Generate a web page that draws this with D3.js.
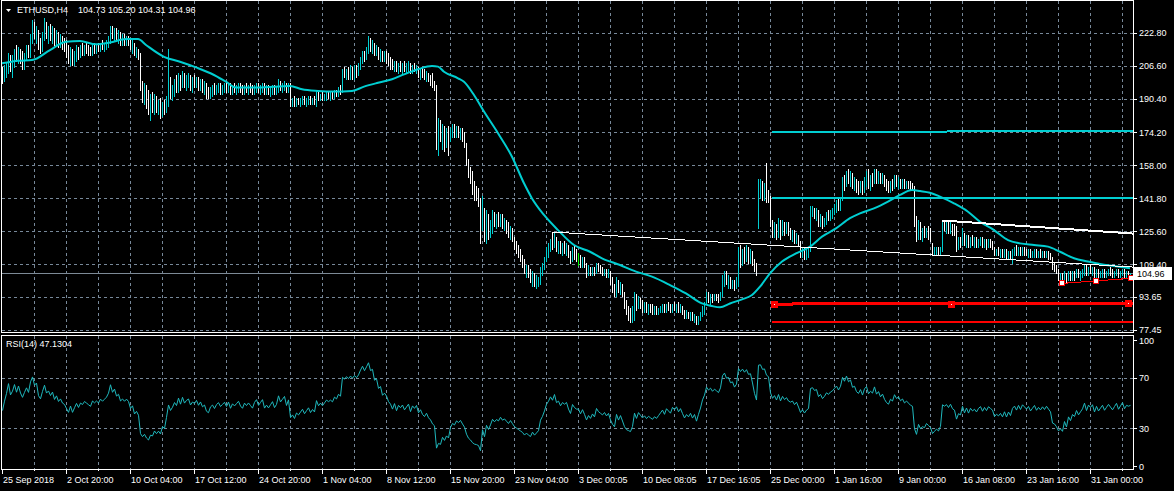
<!DOCTYPE html>
<html><head><meta charset="utf-8">
<script src="https://cdn.jsdelivr.net/npm/d3@7"></script>
<style>html,body{margin:0;padding:0;background:#000;overflow:hidden}svg{display:block}</style>
</head><body><svg id="c" width="1174" height="491"></svg>
<script>
// ---------------- DATA ----------------
const symbolTitle = "ETHUSD,H4";
const headerOHLC = "104.73 105.20 104.31 104.96";
const rsiTitle = "RSI(14) 47.1304";
const firstOpen = 205;
const rsiStart = 44;      // RSI value read at the first bar
const rsiStartMove = 1.5; // typical bar-to-bar move used to seed the averages
const highs = [
206,207,208,213,212,212,215,217,216,215,214,213,217,217,222,229,
228,226,224,220,223,230,228,226,227,226,225,224,223,222,221,220,
219,217,216,215,214,217,216,217,218,217,218,217,216,217,218,217,
218,218,219,218,219,221,226,226,225,225,224,223,222,222,221,221,
220,219,218,216,215,213,199,198,197,195,193,194,193,192,190,191,
189,190,192,215,201,197,200,202,203,202,204,203,202,203,202,201,
202,201,201,200,200,199,198,196,196,197,198,197,198,198,197,198,
199,198,198,197,198,197,198,198,197,197,198,197,198,197,197,198,
198,197,198,198,197,197,196,197,197,196,200,199,198,199,198,198,
198,191,192,191,191,191,192,192,191,192,192,191,192,195,194,193,
194,193,194,194,194,194,195,195,196,197,205,206,205,206,207,206,
207,207,208,211,214,214,216,221,220,219,218,217,216,215,214,214,
214,213,211,210,209,209,208,209,208,209,208,209,208,207,208,207,
206,205,206,205,204,203,202,203,199,197,181,180,178,177,176,177,
176,178,178,177,177,176,176,174,169,161,157,155,150,148,147,142,
143,137,136,134,131,136,135,134,135,134,134,132,131,130,128,127,
123,121,119,117,114,112,109,109,107,106,105,104,103,108,110,113,
118,120,122,125,125,123,121,121,120,121,120,119,116,118,119,117,
115,114,113,113,110,109,108,108,108,110,110,109,108,107,107,107,
106,103,100,103,102,101,100,96,92,89,88,89,96,95,94,93,
92,91,91,90,90,90,89,89,88,89,90,90,90,91,90,90,
91,90,91,90,89,87,87,86,86,86,85,84,84,86,89,91,
96,96,95,95,95,95,95,96,104,106,106,104,103,102,102,103,
118,119,117,118,119,118,117,116,112,110,151,151,150,149,159,146,
143,131,130,129,132,131,131,130,130,130,127,126,126,125,124,121,
118,118,117,118,138,138,137,137,136,134,133,132,135,136,136,137,
139,141,142,142,152,153,155,156,155,154,152,151,150,150,150,152,
155,156,153,154,156,156,155,154,154,153,151,150,150,151,153,153,
152,151,151,151,150,150,150,149,148,133,131,130,127,128,127,128,
127,120,118,118,118,118,131,131,130,131,130,129,129,128,123,123,
127,125,124,124,123,124,123,123,122,123,123,122,122,122,122,121,
118,117,118,117,117,117,117,116,116,117,118,119,118,118,118,118,
117,117,117,116,117,117,116,117,116,116,116,116,115,113,110,109,
107,105,105,106,105,106,106,106,106,107,107,106,107,109,109,108,
109,108,108,107,107,106,107,107,106,107,108,107,106,107,107,106,
107,107,106,106,105.2];
const lows = [
198,199,201,203,204,201,206,209,208,208,205,205,210,211,211,218,
220,218,215,213,214,219,220,218,219,218,217,217,216,216,215,214,
211,208,207,207,207,209,210,211,212,212,213,212,212,212,213,213,
214,214,215,214,215,216,218,220,219,219,218,217,217,217,217,217,
215,213,212,211,210,195,189,188,186,183,180,184,183,184,183,181,
182,183,184,187,191,190,192,194,194,195,196,196,195,196,195,194,
196,196,195,195,194,193,191,191,191,192,193,193,194,193,193,194,
194,194,193,193,194,193,194,194,193,193,194,193,194,193,193,194,
194,193,194,193,193,193,192,193,193,193,194,195,194,195,194,194,
187,187,187,187,188,187,188,188,187,188,188,188,188,187,190,190,
190,190,190,191,190,191,191,192,192,193,194,201,200,200,200,200,
200,201,202,205,208,209,210,213,214,213,212,212,210,209,209,209,
208,207,205,205,204,204,203,204,203,204,203,204,203,203,204,203,
201,200,201,200,199,199,197,196,195,166,163,170,166,165,167,163,
170,172,172,172,172,171,170,167,158,152,149,144,141,141,138,120,
126,121,120,122,123,125,128,127,128,128,127,126,125,123,122,121,
117,115,113,111,108,105,103,103,101,99,99,98,99,100,104,107,
111,113,116,117,118,116,115,115,114,115,114,113,110,111,112,111,
109,108,108,108,103,104,104,104,104,105,106,105,104,104,103,103,
100,96,94,94,96,95,94,88,85,82,81,81,82,87,88,88,
86,86,86,85,86,85,85,85,85,86,86,86,86,87,86,86,
87,86,86,86,85,83,83,83,82,82,81,80,80,82,84,85,
90,91,90,91,92,92,91,92,94,99,100,98,98,98,97,98,
99,108,109,110,111,110,110,109,106,104,127,142,141,141,140,140,
128,123,123,122,123,122,124,124,125,124,122,121,120,120,119,113,
113,112,112,113,116,133,132,131,128,128,127,128,129,131,131,132,
134,135,136,136,141,146,148,149,148,147,146,145,144,145,144,145,
148,147,146,148,149,149,149,149,149,148,146,145,145,146,147,148,
147,147,147,147,147,147,146,146,128,121,122,122,121,123,123,122,
121,114,114,114,114,114,116,126,125,125,125,124,124,116,117,118,
119,119,118,118,118,119,118,118,118,119,118,118,117,118,118,117,
114,114,114,113,113,113,112,112,112,110,114,114,114,114,114,114,
114,113,113,113,113,113,113,113,113,113,113,112,112,107,106,105,
102,101,101,102,101,102,102,102,102,103,103,102,103,104,104,104,
105,104,103,103,103,103,103,103,103,104,104,103,103,104,103,103,
104,103,103,104,104.31];
const closes = [
200,203,206,211,207,209,213,210,214,211,209,212,215,213,221,226,
222,224,217,215,221,227,222,224,221,224,219,222,218,220,217,216,
213,210,214,209,212,215,212,215,214,216,215,214,213,216,215,216,
215,217,216,217,218,220,225,222,224,221,222,219,220,219,220,219,
216,217,213,214,212,197,193,194,189,186,188,187,189,186,187,184,
187,185,190,197,193,195,198,196,201,197,202,198,200,201,197,199,
198,200,197,199,196,197,193,192,195,196,194,196,197,195,196,197,
195,197,194,196,195,196,197,195,194,196,195,196,195,194,196,197,
195,196,197,194,195,194,195,196,194,195,198,196,197,198,195,197,
189,190,188,190,189,190,191,189,190,191,189,190,189,193,191,192,
191,192,193,192.5,193,192.5,194,193.5,195,194.5,203,202.5,204,203.5,205,204.5,
206,205.5,207,210,213,212,215,219,217,218,215,216,213,214,211,212,
211,209,208,206,208,205,207,206,207,205,206,207,204,206,205,206,
203,204,202,201,202,200,199,197,196,170,172,170,173,168,170,167,
172,174,172.5,174.5,173,174,171,168,160,154,151,146,143,142,140,126,
138,124,133,125,129,134,130,132,130,133,129,130,127,124,126,122,
118,116,114,112,110,106,107,104,102,104,100,101,102,107,109,112,
116,118,121,119,123,118,119,116,118,117,118,114,111,116,114,113,
113,110,112,109,105,107,105,107,105,109,107,106,105,106,104,105,
101,98,96,101,97,99,95,90,87,86,85,87,93,89,92,90,
88,89,87,88,87,86,87,86,87,88,89,87,89,88,87,89,
88,89,87,88,86,84,85,84,85,83,84,81,83,85,88,90,
94,93,94,93,94,93.5,93,95,102,104,102.5,103,101.5,102,100.5,102,
114,113,115.5,114.5,117,115.5,116,113,109,106,148,149,146,147,143,142,
130,125,128,124,130,124,129,126,128,125,124,125,122,124,120,115,
117,114,116,117,135,136,134,135,130,132,129,131,134,133,135,136,
138,140,138,141,150,148,154,151,153,149,150,147,146,149,146,151,
153,149,151,150,155,151,153,150,152,149,147,146,149,148,152,150,
151,149,150,148,149,148,147,146.5,131,124,129,124,125,124,126,124,
122,115,116,117,115,117,129,128,129,127,129,126,125,118,121,120,
125,120,123,119,122,120,121,119,121,122,119,121,119,121,120,119,
115,116,115,116,114,116,113,115,113,116,117,115,117,115,117,116,
115,116,114,115,116,114,115,114,115,114,115,114,113,108,107.5,106,
103.5,104,102.5,105,102,105,103,105,104,106,104,105,106,108,105,107,
106,107,104,106,104,105,106,104,105,106,105,104,105,106,104,105,
106,104,105,104.73,104.96];
// moving average (bar index, value)
const maIdx = [0,8,15,24,32,39,47,54,62,68,72,81,89,97,106,112,117,128,144,150,158,166,175,181,188,195,201,208,215,218,221,228,231,236,241,248,255,261,265,271,278,286,294,300,309,317,325,334,342,350,355,359,364,370,375,379,384,390,397,404,410,417,424,429,436,443,449,455,459,464,469,476,483,489,496,503,509,516,523,529,536,543,549,556,564];
const maVal = [207.8,209.1,209.4,214.3,218.4,218.7,217.1,218,219.7,219.7,216.8,211,208.6,205.8,202.1,198.8,196,196,196.7,195.1,194.3,194,194.3,196.4,198.3,200,202.4,204.9,206.5,206.2,203.7,200.5,198.8,192.3,184.2,173.6,162.1,149.1,141.7,133.6,126.2,118.9,115.6,112.4,109.1,105.9,103.4,99.3,95.2,90.3,89,88.4,90.3,92.3,94.4,98.5,105,110.8,114.8,118.1,123,127,132,134.4,136.8,140.1,143.4,145.8,145.3,144.5,142.6,139.3,135.2,130.3,126.2,121.3,119.7,118.9,118.1,115.6,112.4,110.8,109.6,108.6,107.5];
const priceTicks = [222.80,206.60,190.40,174.20,158.00,141.80,125.60,109.40,93.65,77.45];
const priceTickLabels = ["222.80","206.60","190.40","174.20","158.00","141.80","125.60","109.40","93.65","77.45"];
const rsiTicks = [100,70,30,0];
const rsiLevels = [70,30];
const timeLabels = ["25 Sep 2018","2 Oct 20:00","10 Oct 04:00","17 Oct 12:00","24 Oct 20:00","1 Nov 04:00","8 Nov 12:00","15 Nov 20:00","23 Nov 04:00","3 Dec 00:05","10 Dec 08:05","17 Dec 16:05","25 Dec 00:00","1 Jan 16:00","9 Jan 00:00","16 Jan 08:00","23 Jan 16:00","31 Jan 00:00"];
const timeLabelBars = [0,32,64,96,128,160,192,224,256,288,320,352,384,416,448,480,512,544];
const lastPrice = 104.96;
const lastPriceLabel = "104.96";
// drawn objects (bar index / price)
const cyanLines = [{b0:385,p0:174.2,b1:565.5,p1:174.7},{b0:385,p0:141.75,b1:565.5,p1:141.75}];
const whiteThin = {b0:275,p0:125.26,b1:565.5,p1:108.1};
const whiteThick = {b0:470,p0:130.9,b1:565.5,p1:124.5};
const redThick = {b0:385,p0:90.0,b1:565.5,p1:90.4};
const redThickPts = [{b:386,p:90.0},{b:474.5,p:90.2},{b:563,p:90.4}];
const redThin = {b0:385,p0:81.07,b1:565.5,p1:81.07};
const redSmall = {b0:530,p0:100.1,b1:564.5,p1:102.6};
const redSmallPts = [{b:530,p:100.1},{b:547,p:101.2},{b:564.5,p:102.6}];

// ---------------- DRAW ----------------
const svg = d3.select('#c');
const FONT = "Liberation Sans, Arial, sans-serif";
const CYAN = "#00ced1", GRID = "#778899";
const N = closes.length;
const L = 1, R = 1133, PT = 0, PB = 332, RT = 335, RB = 469;
const x = d3.scaleLinear().domain([0, 564]).range([2, 1130]);
const y = d3.scaleLinear().domain([77.45, 222.80]).range([329.7, 32.7]);
const yr = d3.scaleLinear().domain([0, 100]).range([466, 340]);
const px = v => Math.round(v) + 0.5;

svg.append('rect').attr('width',1174).attr('height',491).attr('fill','#000');
const defs = svg.append('defs');
defs.append('clipPath').attr('id','cp').append('rect').attr('x',L+1).attr('y',PT+1).attr('width',R-L-1).attr('height',PB-PT-1);
defs.append('clipPath').attr('id','cr').append('rect').attr('x',L+1).attr('y',RT+1).attr('width',R-L-1).attr('height',RB-RT-1);

// grids
const g = svg.append('g').attr('shape-rendering','crispEdges').attr('stroke',GRID).attr('stroke-dasharray','3,3').attr('stroke-width',1);
g.selectAll('.hg').data(priceTicks).join('line').attr('x1',L+1).attr('x2',R).attr('y1',d=>px(y(d))).attr('y2',d=>px(y(d)));
const vg = d3.range(16, 565, 16);
g.selectAll('.vg').data(vg).join('line').attr('x1',d=>px(x(d))).attr('x2',d=>px(x(d))).attr('y1',PT+1).attr('y2',PB);
g.selectAll('.vr').data(vg).join('line').attr('x1',d=>px(x(d))).attr('x2',d=>px(x(d))).attr('y1',RT+1).attr('y2',RB);
g.selectAll('.rl').data(rsiLevels).join('line').attr('x1',L+1).attr('x2',R).attr('y1',d=>px(yr(d))).attr('y2',d=>px(yr(d)));

// bid line
svg.append('line').attr('shape-rendering','crispEdges').attr('x1',L+1).attr('x2',R).attr('y1',px(y(lastPrice))).attr('y2',px(y(lastPrice))).attr('stroke','#7d8a96');

// bars
const opens = closes.map((c,i)=> i===0 ? firstOpen : closes[i-1]);
const pg = svg.append('g').attr('clip-path','url(#cp)');
pg.append('g').attr('shape-rendering','crispEdges').selectAll('line').data(d3.range(N)).join('line')
  .attr('x1',i=>px(x(i))).attr('x2',i=>px(x(i)))
  .attr('y1',i=>Math.round(y(highs[i]))).attr('y2',i=>Math.round(y(lows[i]))+1)
  .attr('stroke',i=> closes[i]>opens[i] ? CYAN : (closes[i]<opens[i] ? '#ffffff' : '#00ff00'))
  .attr('stroke-width',1);

// MA
pg.append('path').datum(maIdx.map((b,i)=>[b,maVal[i]]))
  .attr('d', d3.line().x(d=>x(d[0])).y(d=>y(d[1])).curve(d3.curveMonotoneX))
  .attr('fill','none').attr('stroke',CYAN).attr('stroke-width',2);

// objects
const seg = (o, color, w) => pg.append('line').attr('shape-rendering','crispEdges')
  .attr('x1',x(o.b0)).attr('y1',y(o.p0)).attr('x2',x(o.b1)).attr('y2',y(o.p1))
  .attr('stroke',color).attr('stroke-width',w);
cyanLines.forEach(o=>seg(o,CYAN,2));
seg(whiteThin,'#ffffff',1);
seg(whiteThick,'#ffffff',2);
seg(redThick,'#ff0000',3);
seg(redThin,'#ff0000',2);
seg(redSmall,'#ff0000',1);
pg.selectAll('.rtp').data(redThickPts).join('rect').attr('shape-rendering','crispEdges')
  .attr('x',d=>Math.round(x(d.b))-3).attr('y',d=>Math.round(y(d.p))-3).attr('width',7).attr('height',7).attr('fill','#ff0000');
pg.selectAll('.rtd').data(redThickPts).join('rect').attr('shape-rendering','crispEdges')
  .attr('x',d=>Math.round(x(d.b))).attr('y',d=>Math.round(y(d.p))).attr('width',1).attr('height',1).attr('fill','#ffffff');
pg.selectAll('.rsp').data(redSmallPts).join('rect').attr('shape-rendering','crispEdges')
  .attr('x',d=>Math.round(x(d.b))-2.5).attr('y',d=>Math.round(y(d.p))-2.5).attr('width',5).attr('height',5)
  .attr('fill','#ffffff').attr('stroke','#ff0000').attr('stroke-width',1);

// RSI(14), Wilder smoothing of the closes, seeded with the value read at the first bar
const period = 14;
let ag = rsiStart/100*rsiStartMove, al = (1-rsiStart/100)*rsiStartMove;
const rsiVals = [[0, rsiStart]];
for (let i = 1; i < N; i++) {
  const d = closes[i] - closes[i-1];
  ag = (ag*(period-1) + Math.max(d,0))/period;
  al = (al*(period-1) + Math.max(-d,0))/period;
  rsiVals.push([i, al === 0 ? 100 : 100 - 100/(1 + ag/al)]);
}
svg.append('g').attr('clip-path','url(#cr)').append('path').datum(rsiVals)
  .attr('d', d3.line().x(d=>x(d[0])+0.5).y(d=>yr(d[1])))
  .attr('fill','none').attr('stroke','#1fb8bd').attr('stroke-width',1);

// panel borders
const b = svg.append('g').attr('shape-rendering','crispEdges').attr('stroke','#ffffff').attr('fill','none');
b.append('rect').attr('x',L+0.5).attr('y',PT+0.5).attr('width',R-L).attr('height',PB-PT);
b.append('rect').attr('x',L+0.5).attr('y',RT+0.5).attr('width',R-L).attr('height',RB-RT);

// right axis
const ra = svg.append('g');
ra.selectAll('line').data(priceTicks).join('line').attr('shape-rendering','crispEdges')
  .attr('x1',R).attr('x2',R+4).attr('y1',d=>px(y(d))).attr('y2',d=>px(y(d))).attr('stroke','#fff');
ra.selectAll('text').data(priceTicks).join('text').attr('x',R+6).attr('y',d=>y(d)+3.5)
  .text((d,i)=>priceTickLabels[i]).attr('fill','#fff').style('font',`9px ${FONT}`);
const rr = svg.append('g');
rr.selectAll('line').data(rsiTicks).join('line').attr('shape-rendering','crispEdges')
  .attr('x1',R).attr('x2',R+4).attr('y1',d=>px(yr(d))).attr('y2',d=>px(yr(d))).attr('stroke','#fff');
rr.selectAll('text').data(rsiTicks).join('text').attr('x',R+6).attr('y',d=>yr(d)+3.5)
  .text(d=>d).attr('fill','#fff').style('font',`9px ${FONT}`);

// last price label
const ly = Math.round(y(lastPrice));
svg.append('rect').attr('x',R+1).attr('y',ly-6).attr('width',38).attr('height',13).attr('fill','#fff');
svg.append('text').attr('x',R+4).attr('y',ly+4).text(lastPriceLabel).attr('fill','#000').style('font',`9px ${FONT}`);

// time axis
const ta = svg.append('g');
ta.selectAll('line.big').data(timeLabelBars).join('line').attr('shape-rendering','crispEdges')
  .attr('x1',d=>px(x(d))).attr('x2',d=>px(x(d))).attr('y1',RB).attr('y2',RB+5).attr('stroke','#fff');
ta.selectAll('line.sm').data(timeLabelBars.map(d=>d+16)).join('line').attr('shape-rendering','crispEdges')
  .attr('x1',d=>px(x(d))).attr('x2',d=>px(x(d))).attr('y1',RB).attr('y2',RB+2).attr('stroke','#fff');
ta.selectAll('text').data(timeLabelBars).join('text').attr('x',d=>x(d)+1).attr('y',RB+14)
  .text((d,i)=>timeLabels[i]).attr('fill','#fff').style('font',`9px ${FONT}`);

// titles
svg.append('path').attr('d','M6,9L11,9L8.5,12Z').attr('fill','#fff');
svg.append('text').attr('x',17).attr('y',13).text(symbolTitle).attr('fill','#fff').style('font',`9px ${FONT}`);
svg.append('text').attr('x',78).attr('y',13).text(headerOHLC).attr('fill','#fff').style('font',`9px ${FONT}`);
svg.append('text').attr('x',6).attr('y',347).text(rsiTitle).attr('fill','#fff').style('font',`9px ${FONT}`);
</script></body></html>
